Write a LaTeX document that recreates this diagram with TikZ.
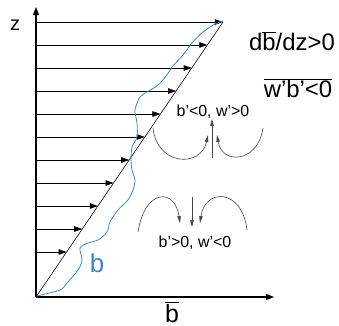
\documentclass[tikz,border=0pt]{standalone}
\usepackage{fontspec}
\setmainfont{Liberation Sans}
\usetikzlibrary{arrows.meta}
\definecolor{bblue}{RGB}{60,135,200}
\definecolor{arcgray}{RGB}{70,70,70}
\begin{document}
\begin{tikzpicture}[x=1bp,y=-1bp,
  axis/.style={line width=1.2bp,-{Triangle[length=8bp,width=6bp]}},
  prof/.style={line width=0.6bp,-{Triangle[length=8bp,width=5.5bp]}},
  flow/.style={line width=0.6bp,arcgray,-{Triangle[length=7bp,width=3.5bp]}},
  lbl/.style={inner sep=0pt}]
\useasboundingbox (0,0) rectangle (339,326);
\coordinate (O) at (36,297);
\coordinate (Ztop) at (36,7);
\coordinate (Bend) at (274,297);
\coordinate (D) at (223,22);
\draw[axis] (O) -- (Ztop);
\draw[axis] (O) -- (Bend);
\draw[line width=0.6bp] (O) -- (D);
\foreach \y [count=\i] in {22,45,...,274}{
  \coordinate (s\i) at (37,\y);
  \coordinate (e\i) at ({36+(297-\y)*0.68},\y);
  \draw[prof] (s\i) -- (e\i);
}
\draw[bblue,line width=0.8bp] plot[smooth,tension=0.5] coordinates {
 (37,296) (60,290) (67,283) (78,270) (82,260) (80,248) (88,243) (98,240)
 (107,232) (110,222) (118,210) (128,200) (133,190) (135,180) (132,170)
 (131,160) (132,147) (137,137) (137,123) (135,110) (140,97) (147,92)
 (158,85) (167,75) (172,67) (183,55) (192,43) (203,32) (215,24) (223,21)};
\node[lbl] (zl) at (15,25) {\fontsize{20}{20}\selectfont z};
\node[lbl,text=bblue] (bl) at (97,263) {\fontsize{26}{26}\selectfont b};
\node[lbl,anchor=base] (bbar) at (172,322) {\fontsize{25}{25}\selectfont $\overline{\mbox{b}}$};
\node[lbl] (t1) at (292,41) {\fontsize{24}{24}\selectfont d$\overline{\mbox{b}}$/dz>0};
\node[lbl] (t2) at (298,88) {\fontsize{24}{24}\selectfont $\overline{\mbox{w’b’<0}}$};
\node[lbl] (u) at (213,112) {\fontsize{16}{16}\selectfont b’<0, w’>0};
\node[lbl] (d) at (195,243) {\fontsize{16}{16}\selectfont b’>0, w’<0};
% upper circulation
\coordinate (ua) at (212,158);
\draw[flow] (ua) -- (ua |- u.south);
\coordinate (ul0) at (153,128);
\coordinate (ul1) at (208,135);
\draw[flow] (ul0) .. controls (157,166) and (201,168) .. (ul1);
\coordinate (ur0) at (263,128);
\coordinate (ur1) at (217,135);
\draw[flow] (ur0) .. controls (258,163) and (222,165) .. (ur1);
% lower circulation
\coordinate (da) at (192,197);
\coordinate (da1) at (192,227);
\draw[flow] (da) -- (da1);
\coordinate (dl0) at (138,232);
\coordinate (dl1) at (180,223);
\draw[flow] (dl0) .. controls (145,188) and (175,188) .. (dl1);
\coordinate (dr0) at (247,230);
\coordinate (dr1) at (200,223);
\draw[flow] (dr0) .. controls (242,188) and (205,188) .. (dr1);
\end{tikzpicture}
\end{document}
